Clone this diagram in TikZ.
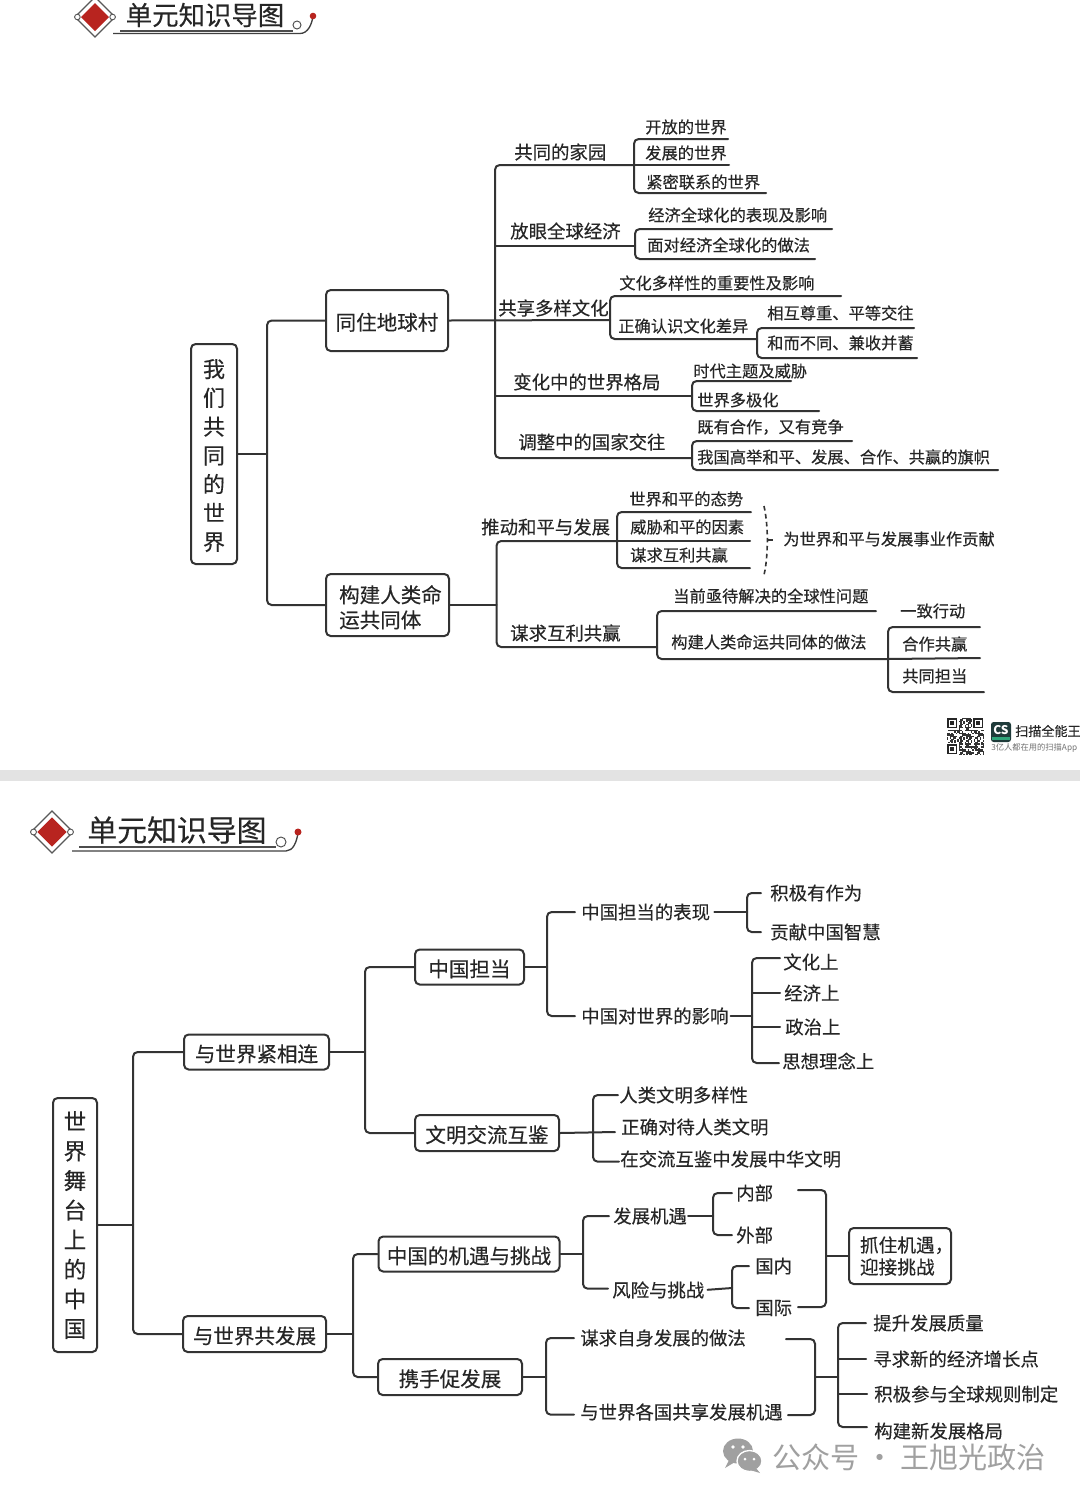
\documentclass[tikz,border=0pt]{standalone}
\usepackage{fontspec}
\setmainfont[FakeBold=0.25]{Noto Sans CJK SC}
\newfontfamily\plainf{Noto Sans CJK SC}
\definecolor{ink}{HTML}{262626}
\definecolor{wire}{HTML}{333333}
\definecolor{dred}{HTML}{B8241F}
\definecolor{wm}{HTML}{A0A0A0}
\definecolor{csdark}{HTML}{1F3B3A}
\definecolor{csgreen}{HTML}{2FA57A}
\newcommand\fsS{\fontsize{12.2pt}{14pt}\selectfont}
\newcommand\fsM{\fontsize{13.8pt}{16.5pt}\selectfont}
\newcommand\fsL{\fontsize{15.4pt}{18.8pt}\selectfont}
\newcommand\fsV{\fontsize{16.5pt}{21.6pt}\selectfont}
\newcommand\fsW{\fontsize{17pt}{22.2pt}\selectfont}
\tikzset{
  lbl/.style={anchor=west,inner sep=0pt,text=ink},
  ts/.style={lbl,font=\fsS},
  tm/.style={lbl,font=\fsM},
  boxn/.style 2 args={draw=wire,line width=1.5pt,rounded corners=3.5pt,fill=white,inner sep=0pt,text=ink,font=\fsL,align=left,minimum width=#1*0.75pt,minimum height=#2*0.75pt},
  low/.style={text height=16.2pt,text depth=1.8pt},
  conn/.style={draw=wire,line width=1.5pt,rounded corners=3.5pt,line cap=round},
  gap/.style={shorten <=#1*0.75pt,shorten >=#1*0.75pt},
  gapend/.style={shorten >=#1*0.75pt},
  gapstart/.style={shorten <=#1*0.75pt}
}
% underline bus: centre coordinate, x, y top, x top end, y bottom, x bottom end
\newcommand\UB[6]{%
  \coordinate (#1t) at (#2,#3);
  \coordinate (#1e) at (#4,#3);
  \coordinate (#1b) at (#2,#5);
  \coordinate (#1f) at (#6,#5);
  \draw[conn] (#1e) -- (#1t) -- (#1b) -- (#1f);
}
\newcommand\Hdr[3]{%
  \begin{scope}[shift={(#1,#2)}]
    \filldraw[fill=white,draw=black!65,line width=0.9pt] (-#3,0) -- (0,-#3) -- (#3,0) -- (0,#3) -- cycle;
    \fill[dred] (-0.7*#3,0) -- (0,-0.7*#3) -- (0.7*#3,0) -- (0,0.7*#3) -- cycle;
    \filldraw[fill=white,draw=black!65,line width=0.7pt] (-0.88*#3,0) circle (0.14*#3);
    \filldraw[fill=white,draw=black!65,line width=0.7pt] (0.88*#3,0) circle (0.14*#3);
  \end{scope}
}
\begin{document}
\begin{tikzpicture}[x=0.75pt,y=-0.75pt]
\useasboundingbox (0,0) rectangle (1080,1500);
\fill[white] (0,0) rectangle (1080,1500);
% separator band
\fill[black!11] (0,770) rectangle (1080,781);

% ---------- header 1
\Hdr{95}{17}{20}
\node[inner sep=0pt,text=ink,font=\fontsize{19.8pt}{22pt}\selectfont] (t1) at (205,15) {单元知识导图};
\draw[black!70,line width=0.9pt] (120,31) -- (293,31);
\draw[black!75,line width=1pt] (113,33.5) -- (300,33.5) .. controls (308,33.5) and (312,24) .. (313,16);
\draw[black!70,line width=0.7pt] (297,25) circle (4);
\fill[dred] (313,16) circle (3.3);

% ---------- header 2
\Hdr{52}{832}{21}
\node[inner sep=0pt,text=ink,font=\fontsize{22.4pt}{24pt}\selectfont] (t2) at (177,830) {单元知识导图};
\draw[black!70,line width=0.9pt] (79,847) -- (276,847);
\draw[black!75,line width=1pt] (72,851) -- (286,851) .. controls (293,851) and (297,842) .. (298,832);
\draw[black!70,line width=0.7pt] (281,842) circle (5);
\fill[dred] (298,832) circle (3.5);

% ---------- upper tree: boxes
\node[boxn={46}{220},align=center,font=\fsV] (r1) at (214,454) {\rule{0pt}{16pt}我\\们\\共\\同\\的\\世\\界};
\node[boxn={122}{61},low] (a1) at (387,320.5) {同住地球村};
\node[boxn={123}{62}] (a2) at (387.5,605) {\rule{0pt}{16.5pt}\hspace*{2.25pt}构建人类命\hspace*{-2.25pt}\\\hspace*{2.25pt}运共同体};

\coordinate (j0) at (267,454);
\draw[conn] (r1.east) -- (j0);
\draw[conn] (a1.west) -| (j0) |- (a2.west);

\coordinate (j1) at (495,321);
\coordinate (c1) at (634,165);
\coordinate (c2) at (635,246);
\coordinate (c3) at (610,320);
\coordinate (c4) at (757,339);
\coordinate (c5) at (692,396);
\coordinate (c6) at (692,458);
\draw[conn] (a1.east) -- (c3);
\draw[conn] (c1) -| (j1) |- (c6);
\draw[conn] (j1 |- c2) -- (c2);
\draw[conn] (j1 |- c5) -- (c5);

\UB{c1}{634}{139}{728}{193}{766}
\coordinate (c1m) at (729,165);
\draw[conn] (c1) -- (c1m);
\UB{c2}{635}{229}{832}{259}{815}
\UB{c3}{610}{296}{841}{339}{757}
\UB{c4}{757}{328}{914}{358}{917}
\UB{c5}{692}{381}{791}{411}{819}
\UB{c6}{692}{441}{852}{470}{998}

\node[tm] (u1) at (514,152) {共同的家园};
\node[ts] (u2) at (645,127) {开放的世界};
\node[ts] (u3) at (645,153) {发展的世界};
\node[ts] (u4) at (646,182) {紧密联系的世界};
\node[tm] (u5) at (510,231) {放眼全球经济};
\node[ts] (u6) at (648,215) {经济全球化的表现及影响};
\node[ts] (u7) at (647,245) {面对经济全球化的做法};
\node[tm] (u8) at (498,308) {共享多样文化};
\node[ts] (u9) at (619,283) {文化多样性的重要性及影响};
\node[ts] (u10) at (618,326) {正确认识文化差异};
\node[ts] (u11) at (767,313) {相互尊重、平等交往};
\node[ts] (u12) at (767,343) {和而不同、兼收并蓄};
\node[tm] (u13) at (513,382) {变化中的世界格局};
\node[ts] (u14) at (693,371) {时代主题及威胁};
\node[ts] (u15) at (697,400) {世界多极化};
\node[tm] (u16) at (518,442) {调整中的国家交往};
\node[ts] (u17) at (697,427) {既有合作，又有竞争};
\node[ts] (u18) at (697,457) {我国高举和平、发展、合作、共赢的旗帜};

% second branch of the upper tree
\coordinate (j2) at (496.5,605);
\coordinate (d1) at (617,541);
\coordinate (d2) at (657,647);
\draw[conn] (a2.east) -- (j2);
\draw[conn] (d1) -| (j2) |- (d2);
\UB{d1}{617}{512}{751}{568}{750}
\coordinate (d1m) at (750,541);
\draw[conn] (d1) -- (d1m);
\UB{d2}{657}{611}{876}{659}{888}
\coordinate (d3) at (888,659);
\UB{d3}{888}{627}{980}{692}{984}
\coordinate (d3m) at (980,658);
\draw[conn] (d3) -- (d3m);

\coordinate (br1) at (764,506);
\coordinate (br2) at (767.5,540);
\coordinate (br3) at (764,575);
\coordinate (br4) at (773,540);
\draw[wire,line width=1.2pt,dash pattern=on 3.5pt off 2.5pt] (br1) .. controls (767,520) and (767,530) .. (br2) .. controls (767,550) and (767,562) .. (br3);
\draw[wire,line width=1.2pt] (br2) -- (br4);

\node[tm] (u19) at (481,527) {推动和平与发展};
\node[ts] (u20) at (629,499) {世界和平的态势};
\node[ts] (u21) at (630,527) {威胁和平的因素};
\node[ts] (u22) at (630,555) {谋求互利共赢};
\node[ts] (u23) at (783,539) {为世界和平与发展事业作贡献};
\node[tm] (u24) at (510,633) {谋求互利共赢};
\node[ts] (u25) at (673,596) {当前亟待解决的全球性问题};
\node[ts] (u26) at (671,642) {构建人类命运共同体的做法};
\node[ts] (u27) at (900,611) {一致行动};
\node[ts] (u28) at (902,644) {合作共赢};
\node[ts] (u29) at (902,676) {共同担当};

% ---------- scanner mark
\foreach \qi in {0,...,24}{\foreach \qj in {0,...,24}{%
  \pgfmathtruncatemacro\qq{mod(\qi*\qi*3+\qj*\qj*5+\qi*\qj*7+\qi*2+\qj,11)}%
  \ifnum\qq<6 \fill[black!80] (947+\qi*1.48,718+\qj*1.48) rectangle +(1.48,1.48);\fi
}}
\foreach \qx/\qy in {947/718,973/718,947/744}{%
  \fill[white] (\qx-1,\qy-1) rectangle +(13,13);
  \fill[black!85] (\qx,\qy) rectangle +(10.4,10.4);
  \fill[white] (\qx+1.5,\qy+1.5) rectangle +(7.4,7.4);
  \fill[black!85] (\qx+3,\qy+3) rectangle +(4.4,4.4);
}
\fill[csdark,rounded corners=2pt] (991,722) rectangle (1011,742);
\fill[csgreen] (992,737) rectangle (1010,740);
\node[inner sep=0pt,text=white,font=\plainf\bfseries\fontsize{9pt}{10pt}\selectfont] (cs) at (1001,730) {CS};
\node[lbl,font=\fontsize{9.8pt}{11pt}\selectfont] (cs1) at (1015,731) {扫描全能王};
\node[lbl,text=black!55,font=\plainf\fontsize{6.2pt}{7pt}\selectfont] (cs2) at (991,748) {3亿人都在用的扫描App};

% ---------- lower tree
\node[boxn={44}{254},align=center,font=\fsW] (r2) at (75,1225) {世\\界\\舞\\台\\上\\的\\中\\国};
\node[boxn={145}{35},low] (b1) at (256.5,1052) {与世界紧相连};
\node[boxn={143}{36},low] (b2) at (254.5,1334) {与世界共发展};
\node[boxn={109}{35},low] (b3) at (469.5,967) {中国担当};
\node[boxn={144}{36},low] (b4) at (487,1133) {文明交流互鉴};
\node[boxn={181}{35},low] (b5) at (469,1254) {中国的机遇与挑战};
\node[boxn={144}{36},low] (b6) at (450,1377) {携手促发展};
\node[boxn={102}{56},font=\fontsize{14pt}{16.5pt}\selectfont] (b7) at (900,1256) {\hspace*{5pt}抓住机遇，\hspace*{-5pt}\\\hspace*{5pt}迎接挑战};

\node[tm] (n1) at (581,912) {中国担当的表现};
\node[tm] (n2) at (581,1016) {中国对世界的影响};
\node[tm] (n3) at (770,893) {积极有作为};
\node[tm] (n4) at (770,932) {贡献中国智慧};
\node[tm] (n5) at (783,962) {文化上};
\node[tm] (n6) at (784,993) {经济上};
\node[tm] (n7) at (785,1027) {政治上};
\node[tm] (n8) at (782,1061) {思想理念上};
\node[tm] (n9) at (619,1095) {人类文明多样性};
\node[tm] (n10) at (621,1127) {正确对待人类文明};
\node[tm] (n11) at (620,1159) {在交流互鉴中发展中华文明};
\node[tm] (n12) at (613,1216) {发展机遇};
\node[tm] (n13) at (612,1290) {风险与挑战};
\node[tm] (n14) at (736,1193) {内部};
\node[tm] (n15) at (736,1235) {外部};
\node[tm] (n16) at (755,1266) {国内};
\node[tm] (n17) at (755,1308) {国际};
\node[tm] (n18) at (580,1338) {谋求自身发展的做法};
\node[tm] (n19) at (580,1412) {与世界各国共享发展机遇};
\node[tm] (n20) at (873,1323) {提升发展质量};
\node[tm] (n21) at (873,1359) {寻求新的经济增长点};
\node[tm] (n22) at (874,1394) {积极参与全球规则制定};
\node[tm] (n23) at (874,1431) {构建新发展格局};

\coordinate (j3) at (133,1225);
\draw[conn] (r2.east) -- (j3);
\draw[conn] (b1.west) -| (j3) |- (b2.west);
\coordinate (j4) at (365,1052);
\draw[conn] (b1.east) -- (j4);
\draw[conn] (b3.west) -| (j4) |- (b4.west);
\coordinate (j5) at (547,967);
\draw[conn] (b3.east) -- (j5);
\draw[conn,gap=6] (n1.west) -| (j5) |- (n2.west);
\coordinate (j6) at (747,912);
\draw[conn,gapstart=4] (n1.east) -- (j6);
\draw[conn,gap=9] (n3.west) -| (j6) |- (n4.west);
\coordinate (j7) at (752,1016);
\draw[conn,gapstart=2] (n2.east) -- (j7);
\draw[conn,gap=3] ([yshift=3pt]n5.west) -| (j7) |- ([yshift=-1.5pt]n8.west);
\draw[conn,gapend=4] (j7 |- n6.west) -- (n6.west);
\draw[conn,gapend=5] (j7 |- n7.west) -- (n7.west);
\coordinate (j8) at (593,1132);
\coordinate (e8) at (615,1132);
\draw[conn] (b4.east) -- (e8);
\draw[conn,gap=1] (n9.west) -| (j8) |- ([yshift=-2pt]n11.west);

\coordinate (j9) at (353,1334);
\draw[conn] (b2.east) -- (j9);
\draw[conn] (b5.west) -| (j9) |- (b6.west);
\coordinate (j10) at (583,1254);
\draw[conn] (b5.east) -- (j10);
\draw[conn,gap=4] (n12.west) -| (j10) |- ([yshift=1pt]n13.west);
\coordinate (j11) at (713,1216);
\draw[conn,gapstart=1] (n12.east) -- (j11);
\draw[conn,gap=4] (n14.west) -| (j11) |- (n15.west);
\coordinate (j12) at (732,1288);
\draw[conn,gapstart=3] (n13.east) -- (j12);
\draw[conn,gap=6] (n16.west) -| (j12) |- (n17.west);
\coordinate (e13) at (798,1190);
\coordinate (e14) at (798,1307);
\coordinate (j13) at (826,1256);
\draw[conn] (e13) -| (j13) |- (e14);
\draw[conn] (j13) -- (b7.west);

\coordinate (j14) at (546,1377);
\draw[conn] (b6.east) -- (j14);
\draw[conn,gap=6] (n18.west) -| (j14) |- ([yshift=-2pt]n19.west);
\coordinate (e17) at (786,1339);
\coordinate (e18) at (788,1415);
\coordinate (j15) at (815,1377);
\coordinate (j16) at (838,1377);
\draw[conn] (e17) -| (j15) |- (e18);
\draw[conn] (j15) -- (j16);
\draw[conn,gap=7] (n20.west) -| (j16) |- ([yshift=3pt]n23.west);
\draw[conn,gapend=7] (j16 |- n21.west) -- (n21.west);
\draw[conn,gapend=7] (j16 |- n22.west) -- (n22.west);

% ---------- watermark
\fill[wm] (738,1451) ellipse (15 and 12.5);
\fill[wm] (729,1460) -- (725,1468) -- (735,1462) -- cycle;
\filldraw[fill=wm,draw=white,line width=1pt] (749.5,1461) ellipse (12.5 and 10.5);
\fill[wm] (756,1468) -- (760,1473) -- (750,1470) -- cycle;
\fill[white] (733,1447) circle (1.8) (743,1447) circle (1.8) (745,1459) circle (1.5) (754,1459) circle (1.5);
\node[lbl,text=wm,font=\plainf\fontsize{21.8pt}{24pt}\selectfont] (wmt) at (772,1457) {公众号\hspace{4.5pt}·\hspace{4.5pt}王旭光政治};
\end{tikzpicture}
\end{document}
